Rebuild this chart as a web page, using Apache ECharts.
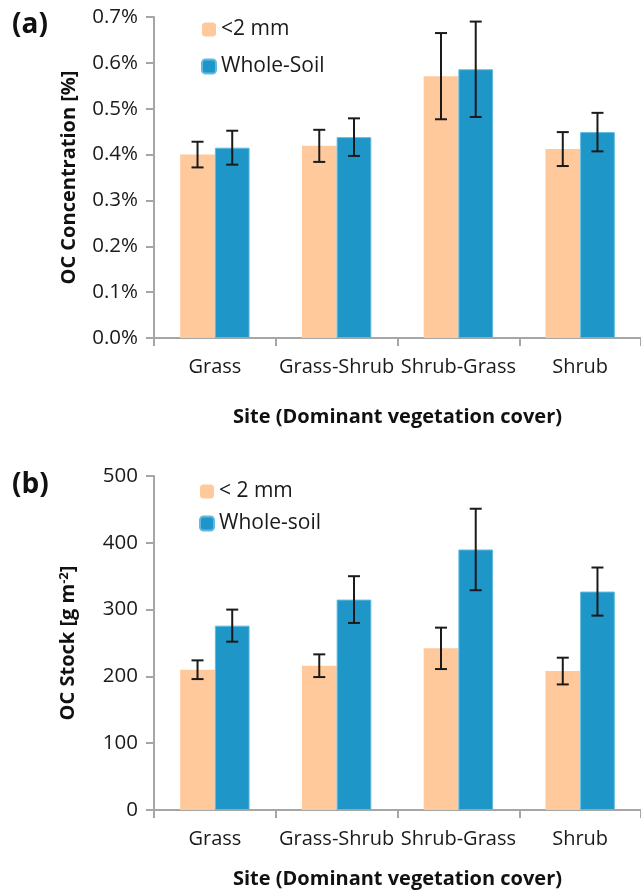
<!DOCTYPE html>
<html>
<head>
<meta charset="utf-8">
<script src="https://cdn.jsdelivr.net/npm/echarts@6/dist/echarts.min.js"></script>
<style>
  html, body { margin: 0; padding: 0; background: #fff; }
  #chart { width: 641px; height: 890px; }
</style>
</head>
<body>
<div id="chart"></div>
<script>
// sites on the x axis
const sites = ['Grass', 'Grass-Shrub', 'Shrub-Grass', 'Shrub'];

// (a) OC concentration, in %
const concFine = [0.400, 0.419, 0.571, 0.412];
const concFineErr = [0.028, 0.035, 0.094, 0.037];
const concWhole = [0.415, 0.438, 0.586, 0.449];
const concWholeErr = [0.037, 0.041, 0.104, 0.042];

// (b) OC stock, in g m-2
const stockFine = [210, 216, 242, 208];
const stockFineErr = [14, 17, 31, 20];
const stockWhole = [276, 315, 390, 327];
const stockWholeErr = [24, 35, 61, 36];

const FONT = 'Open Sans';
const PEACH = '#FFC99B';
const BLUE = '#1E96C8';
const BAR_W = 0.285; // share of the category band

// low/high pairs for the whiskers
const errData = (vals, errs) => vals.map((v, i) => [i, v - errs[i], v + errs[i]]);

// whisker drawn at the centre of one of the two bars
const errorBars = (shift) => (params, api) => {
  const cat = api.value(0);
  const hi = api.coord([cat, api.value(2)]);
  const lo = api.coord([cat, api.value(1)]);
  const band = api.size([1, 0])[0];
  const x = hi[0] + shift * band * BAR_W / 2;
  const cap = 6;
  const style = { stroke: '#1a1a1a', lineWidth: 2 };
  return {
    type: 'group',
    children: [
      { type: 'line', shape: { x1: x, y1: hi[1], x2: x, y2: lo[1] }, style },
      { type: 'line', shape: { x1: x - cap, y1: hi[1], x2: x + cap, y2: hi[1] }, style },
      { type: 'line', shape: { x1: x - cap, y1: lo[1], x2: x + cap, y2: lo[1] }, style }
    ]
  };
};

const axisLine = { show: true, lineStyle: { color: '#a6a6a6', width: 2 } };
const axisTick = { show: true, length: 8, lineStyle: { color: '#a6a6a6', width: 2 } };
const labelStyle = { color: '#1a1a1a', fontFamily: FONT, fontSize: 20.5 };
const titleStyle = { color: '#111', fontFamily: FONT, fontSize: 20, fontWeight: 'bold' };

const xAxisFor = (gridIndex, nameGap) => ({
  type: 'category',
  gridIndex,
  data: sites,
  boundaryGap: true,
  axisLine,
  axisTick: Object.assign({ alignWithLabel: false }, axisTick),
  axisLabel: Object.assign({ margin: 19, interval: 0 }, labelStyle, { fontSize: 20 }),
  name: 'Site (Dominant vegetation cover)',
  nameLocation: 'middle',
  nameGap,
  nameTextStyle: titleStyle
});

const chart = echarts.init(document.getElementById('chart'));

chart.setOption({
  animation: false,
  backgroundColor: '#fff',
  grid: [
    { left: 154, top: 17, width: 496, height: 321 },
    { left: 154, top: 476, width: 496, height: 334 }
  ],
  legend: [
    {
      data: ['<2 mm', 'Whole-Soil'],
      orient: 'vertical',
      left: 196, top: 14,
      itemWidth: 14, itemHeight: 14, itemGap: 16,
      textStyle: Object.assign({}, labelStyle, { fontSize: 21 })
    },
    {
      data: ['< 2 mm', 'Whole-soil'],
      orient: 'vertical',
      left: 194, top: 476,
      itemWidth: 14, itemHeight: 14, itemGap: 11,
      textStyle: Object.assign({}, labelStyle, { fontSize: 21 })
    }
  ],
  graphic: [
    { type: 'text', left: 12, top: 11, style: { text: '(a)', font: 'bold 28px "Open Sans"', fill: '#111' } },
    { type: 'text', left: 12, top: 471, style: { text: '(b)', font: 'bold 28px "Open Sans"', fill: '#111' } }
  ],
  xAxis: [xAxisFor(0, 69), xAxisFor(1, 59)],
  yAxis: [
    {
      type: 'value',
      gridIndex: 0,
      min: 0, max: 0.7, interval: 0.1,
      axisLine, axisTick,
      splitLine: { show: false },
      axisLabel: Object.assign({ margin: 16, formatter: (v) => v.toFixed(1) + '%' }, labelStyle),
      name: 'OC Concentration [%]',
      nameLocation: 'middle',
      nameGap: 75,
      nameTextStyle: titleStyle
    },
    {
      type: 'value',
      gridIndex: 1,
      min: 0, max: 500, interval: 100,
      axisLine, axisTick,
      splitLine: { show: false },
      axisLabel: Object.assign({ margin: 16 }, labelStyle),
      name: '{t|OC Stock [g m}{s|-2}{t|]}',
      nameLocation: 'middle',
      nameGap: 75,
      nameTextStyle: Object.assign({}, titleStyle, {
        rich: {
          t: titleStyle,
          s: { color: '#111', fontFamily: FONT, fontSize: 13, fontWeight: 'bold', verticalAlign: 'top', padding: [0, 0, 8, 0] }
        }
      })
    }
  ],
  series: [
    {
      name: '<2 mm', type: 'bar', xAxisIndex: 0, yAxisIndex: 0,
      barWidth: (BAR_W * 100) + '%', barGap: '0%',
      itemStyle: { color: PEACH }, data: concFine
    },
    {
      name: 'Whole-Soil', type: 'bar', xAxisIndex: 0, yAxisIndex: 0,
      barWidth: (BAR_W * 100) + '%', barGap: '0%',
      itemStyle: { color: BLUE, borderColor: '#62b9e0', borderWidth: 1 }, data: concWhole
    },
    {
      type: 'custom', xAxisIndex: 0, yAxisIndex: 0, z: 5,
      renderItem: errorBars(-1), encode: { x: 0, y: [1, 2] },
      data: errData(concFine, concFineErr)
    },
    {
      type: 'custom', xAxisIndex: 0, yAxisIndex: 0, z: 5,
      renderItem: errorBars(1), encode: { x: 0, y: [1, 2] },
      data: errData(concWhole, concWholeErr)
    },
    {
      name: '< 2 mm', type: 'bar', xAxisIndex: 1, yAxisIndex: 1,
      barWidth: (BAR_W * 100) + '%', barGap: '0%',
      itemStyle: { color: PEACH }, data: stockFine
    },
    {
      name: 'Whole-soil', type: 'bar', xAxisIndex: 1, yAxisIndex: 1,
      barWidth: (BAR_W * 100) + '%', barGap: '0%',
      itemStyle: { color: BLUE, borderColor: '#62b9e0', borderWidth: 1 }, data: stockWhole
    },
    {
      type: 'custom', xAxisIndex: 1, yAxisIndex: 1, z: 5,
      renderItem: errorBars(-1), encode: { x: 0, y: [1, 2] },
      data: errData(stockFine, stockFineErr)
    },
    {
      type: 'custom', xAxisIndex: 1, yAxisIndex: 1, z: 5,
      renderItem: errorBars(1), encode: { x: 0, y: [1, 2] },
      data: errData(stockWhole, stockWholeErr)
    }
  ]
});
</script>
</body>
</html>
